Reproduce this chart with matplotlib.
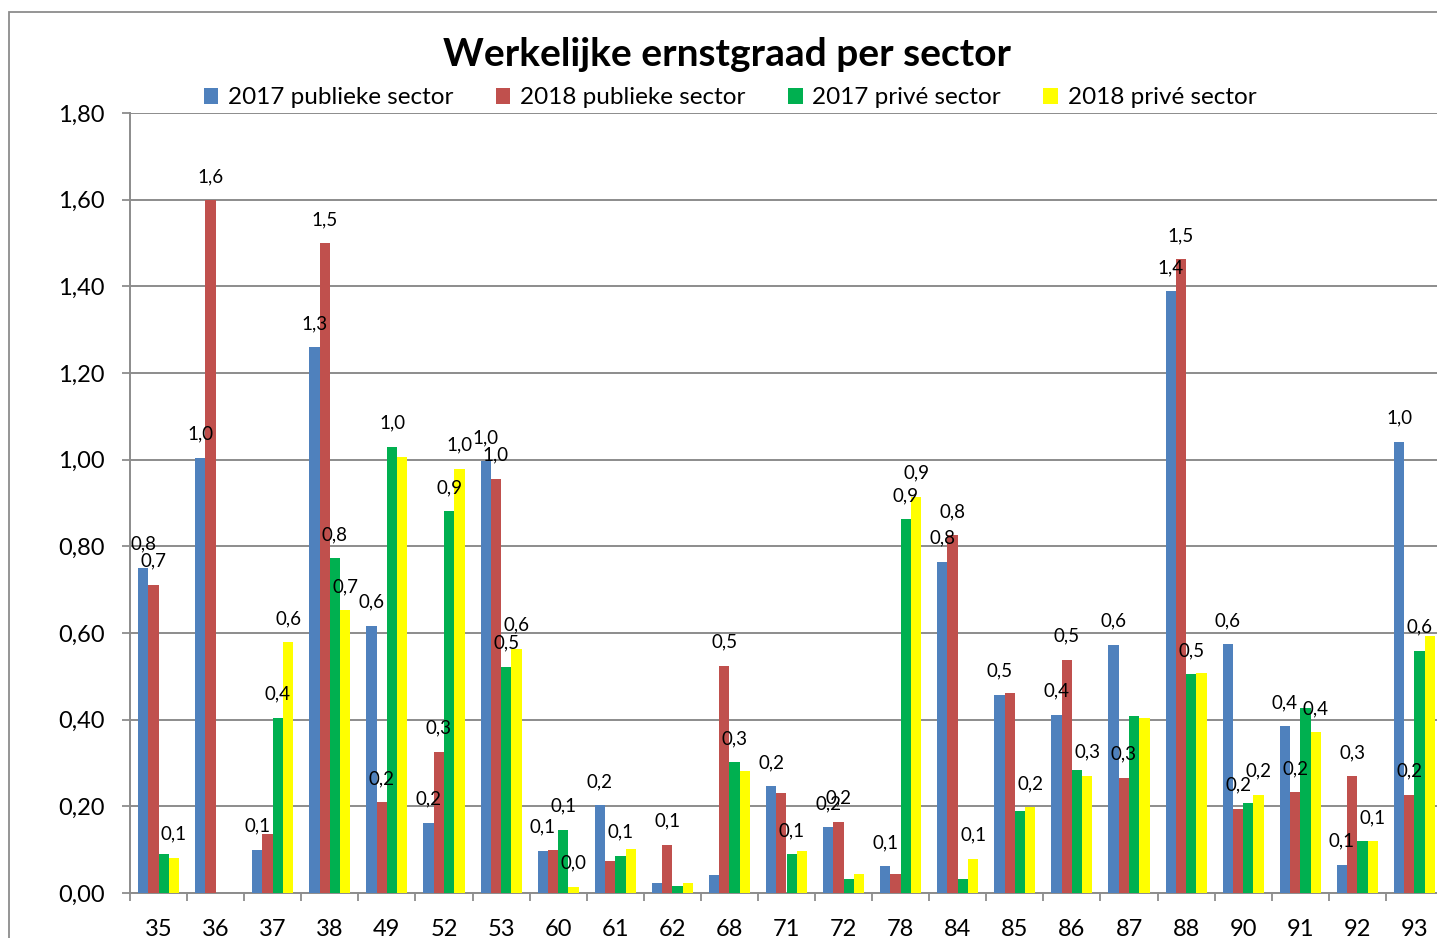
import matplotlib.pyplot as plt
import matplotlib.patches as mpatches
import numpy as np

# sectors on the x axis
sectors = ['35', '36', '37', '38', '49', '52', '53', '60', '61', '62', '68', '71',
           '72', '78', '84', '85', '86', '87', '88', '90', '91', '92', '93']

pub_2017 = [0.751, 1.004, 0.100, 1.260, 0.617, 0.162, 0.996, 0.097, 0.202, 0.023, 0.042, 0.246,
            0.152, 0.062, 0.764, 0.457, 0.411, 0.573, 1.389, 0.574, 0.385, 0.065, 1.041]
pub_2018 = [0.711, 1.599, 0.136, 1.500, 0.209, 0.326, 0.956, 0.100, 0.074, 0.111, 0.525, 0.230,
            0.164, 0.045, 0.826, 0.462, 0.538, 0.266, 1.463, 0.194, 0.233, 0.270, 0.227]
priv_2017 = [0.091, 0.0, 0.405, 0.773, 1.030, 0.881, 0.522, 0.146, 0.086, 0.017, 0.302, 0.089,
             0.032, 0.863, 0.033, 0.190, 0.283, 0.408, 0.505, 0.208, 0.426, 0.120, 0.559]
priv_2018 = [0.081, 0.0, 0.579, 0.652, 1.007, 0.979, 0.564, 0.015, 0.102, 0.023, 0.282, 0.097,
             0.044, 0.914, 0.079, 0.198, 0.271, 0.405, 0.508, 0.227, 0.371, 0.120, 0.594]

# which data labels are visible in the original (Excel hides overlapping ones)
show_pub17 = [1, 1, 1, 1, 1, 1, 1, 1, 1, 0, 0, 1, 1, 1, 1, 1, 1, 1, 1, 1, 1, 1, 1]
show_pub18 = [1, 1, 0, 1, 1, 1, 1, 0, 0, 1, 1, 0, 1, 0, 1, 0, 1, 1, 1, 1, 1, 1, 1]
show_priv17 = [0, 0, 1, 1, 1, 1, 1, 1, 1, 0, 1, 1, 0, 1, 0, 0, 0, 0, 1, 0, 0, 0, 1]
show_priv18 = [1, 0, 1, 1, 0, 1, 1, 1, 0, 0, 0, 0, 0, 1, 1, 1, 1, 0, 0, 1, 1, 1, 0]

series_names = ['2017 publieke sector', '2018 publieke sector', '2017 privé sector', '2018 privé sector']
colors = ['#4F81BD', '#C0504D', '#00B050', '#FFFF00']

y_ticks = [0.0, 0.2, 0.4, 0.6, 0.8, 1.0, 1.2, 1.4, 1.6, 1.8]
y_ticklabels = ['0,00', '0,20', '0,40', '0,60', '0,80', '1,00', '1,20', '1,40', '1,60', '1,80']

plt.rcParams['font.family'] = ['Lato', 'DejaVu Sans']

W, H = 1437, 938
fig = plt.figure(figsize=(W / 100, H / 100), dpi=100)

# outer chart frame (runs off the right / bottom of the picture)
fig.patches.append(mpatches.Rectangle((9 / W, -0.1), 1.2, 1 - 12 / H + 0.1, transform=fig.transFigure,
                                      fill=False, edgecolor='#8C8C8C', linewidth=1.3))

ax = fig.add_axes([130 / W, (H - 893) / H, 1313 / W, 780 / H])

x = np.arange(len(sectors))
bw = 0.18
all_vals = [pub_2017, pub_2018, priv_2017, priv_2018]
all_show = [show_pub17, show_pub18, show_priv17, show_priv18]

for i, (vals, show) in enumerate(zip(all_vals, all_show)):
    pos = x + (i - 1.5) * bw
    ax.bar(pos, vals, width=bw, color=colors[i], label=series_names[i], zorder=3)
    for p, v, s in zip(pos, vals, show):
        if s:
            ax.annotate(f'{v:.1f}'.replace('.', ','), (p, v), xytext=(0, 17), textcoords='offset points',
                        ha='center', va='center', fontsize=13.5, zorder=4)

ax.set_xlim(-0.5, len(sectors) - 0.5)
ax.set_ylim(0, 1.8)
ax.set_yticks(y_ticks)
ax.set_yticklabels(y_ticklabels, fontsize=17)
ax.set_xticks(x)
ax.set_xticklabels(sectors, fontsize=17)
ax.set_xticks(np.arange(len(sectors) + 1) - 0.5, minor=True)
ax.tick_params(axis='x', which='major', length=0, pad=19)
ax.tick_params(axis='x', which='minor', length=6, width=1.3, color='#8C8C8C')
ax.tick_params(axis='y', length=6, width=1.3, color='#8C8C8C', pad=12)

ax.grid(axis='y', color='#8C8C8C', linewidth=1.4, zorder=0)
for side in ['top', 'right']:
    ax.spines[side].set_visible(False)
for side in ['left', 'bottom']:
    ax.spines[side].set_color('#8C8C8C')
    ax.spines[side].set_linewidth(1.4)

fig.text(0.5056, 1 - 55 / H, 'Werkelijke ernstgraad per sector', ha='center', va='center',
         fontsize=28, fontweight='bold')

fig.legend(loc='center', bbox_to_anchor=(0.508, 1 - 98 / H), ncol=4, frameon=False, fontsize=17.5,
           handlelength=0.6, handleheight=0.6, handletextpad=0.4, columnspacing=1.75)

fig.savefig('out.png', dpi=100)
